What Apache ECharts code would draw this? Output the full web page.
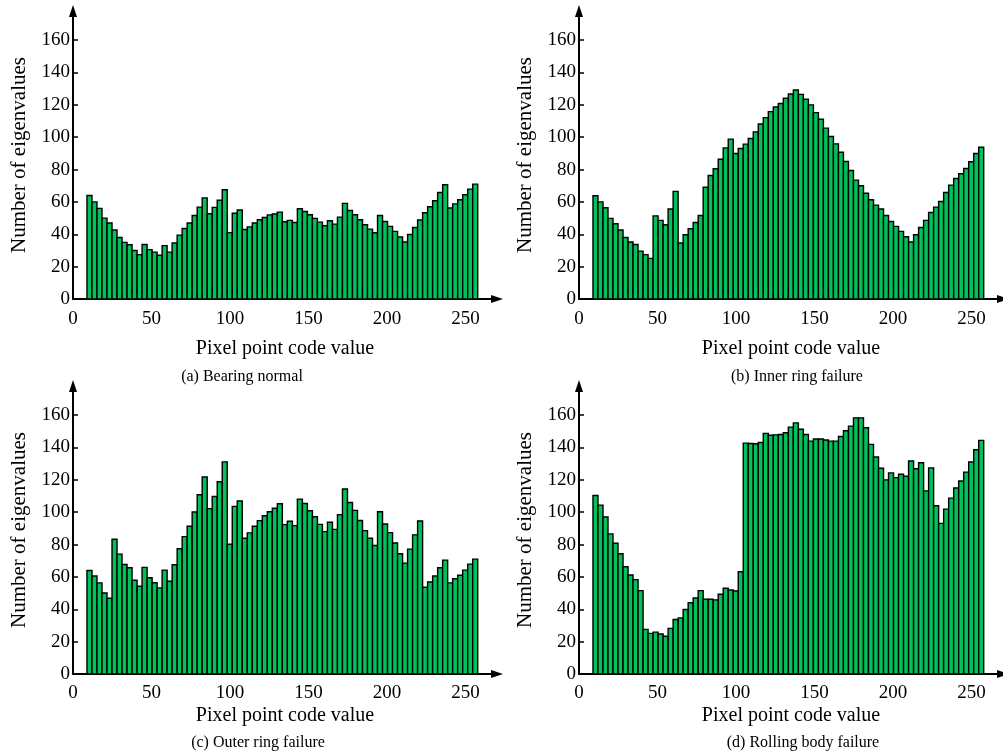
<!DOCTYPE html>
<html>
<head>
<meta charset="utf-8">
<script src="https://cdn.jsdelivr.net/npm/echarts@6/dist/echarts.min.js"></script>
<style>
  html, body { margin: 0; padding: 0; background: #fff; }
  #chart { width: 1003px; height: 756px; }
</style>
</head>
<body>
<div id="chart"></div>
<script>
// Histogram bins of the pixel point code values (equal-width bins)
const binStart = 8.9;
const binWidth = 3.19;
const binCount = 78;

const yTicks = [0, 20, 40, 60, 80, 100, 120, 140, 160];
const xTicks = [0, 50, 100, 150, 200, 250];

// Number of eigenvalues per bin
const bearingNormal = [
  64, 60, 56, 50, 47, 42.6, 38, 35, 33.5, 30, 27.4, 33.7, 30.5, 29, 27, 33, 29, 34.6, 39.5, 43.6,
  47, 51.6, 56.8, 62.5, 52.7, 56.6, 61, 67.5, 41, 53, 55, 43, 44.6, 47, 49, 50.4, 52, 52.5, 53.7,
  47.7, 48.6, 47.3, 55.8, 54.1, 52.1, 49.8, 47.5, 45.3, 48.4, 46.3, 50.6, 59.1, 54.7, 52.1, 49,
  45.9, 43.2, 40.9, 51.6, 47.9, 44.9, 41.8, 38.3, 35.2, 39.9, 44.2, 48.8, 53.3, 57, 60.7, 65.8,
  70.6, 56.2, 58.8, 61.3, 64.4, 67.9, 71
];
const innerRingFailure = [
  63.8, 60, 56.4, 49.8, 46.5, 42.6, 38, 35.2, 33.7, 29.6, 27.4, 25.1, 51.4, 48.6, 45.9, 55.6, 66.5,
  34.6, 39.7, 43.4, 47.3, 51.6, 69.1, 76.3, 80.5, 86.4, 93.4, 98.8, 89.9, 93, 95.7, 99.2, 103.3,
  108.2, 112.1, 115.8, 118.7, 120.8,
  124.1, 126.7, 129.2, 126.5, 123.5, 120, 115.2, 111.1, 105.6, 100.4, 95.9, 90.7, 85, 79.4, 73.5,
  70, 65.4, 61.3, 58, 55.6, 51.6, 47.9, 44.9, 41.8, 38.5, 35.2, 39.7, 44.2, 48.6, 53.5, 56.8, 60.3,
  65.8, 70.4, 74.5, 77.4, 80.7, 84.8, 89.9, 93.8
];
const outerRingFailure = [
  64, 60.6, 56.3, 50.1, 46.8, 83.3, 74.1, 67.7, 65.7, 57.9, 54.2, 65.9, 59.5, 56.4, 53.2, 64.2, 57.3,
  67.5, 77.4, 84.9, 91.3, 100.1, 110.8, 121.8, 102.2, 109.7, 118.8, 131.1, 80.2, 103.6, 106.9, 83.9,
  87.2, 91.3, 94.8, 97.8, 100.3, 102.4, 105.2,
  92.3, 94.4, 91.7, 108.1, 105.4, 100.9, 97.2, 92.5, 88, 93.8, 89.4, 98.5, 114.3, 106, 101.1, 94.9,
  88.6, 83.9, 79.4, 100.3, 92.7, 87.4, 81, 74.3, 68.5, 77.2, 86, 94.6, 53.6, 56.9, 60.6, 65.7, 70.4,
  56.3, 58.9, 61, 64.2, 67.9, 71
];
const rollingBodyFailure = [
  110.3, 104.4, 97, 86.6, 80.8, 74.3, 66.3, 61.2, 58.3, 51.5, 27.6, 25.1, 25.9, 24.7, 23.3, 28.2,
  33.7, 34.7, 39.9, 44, 47, 51.5, 46.2, 46.2, 45.8, 49.3, 53, 51.9, 51.3, 63.2, 142.7, 142.5, 142.3,
  143.1, 148.7, 147.6, 147.8, 148, 149.1, 152.6,
  155.2, 151.3, 148, 143.9, 145.2, 145.2, 144.6, 143.9, 143.9, 146.8, 150.3, 153.2, 158.3, 158.3,
  152.2, 141.9, 134.1, 127.2, 120, 124.3, 121.4, 123.5, 122.2, 131.6, 126.9, 130.6, 113.2, 127.4,
  104, 93.1, 101.9, 108.7, 115, 119.3, 124.8, 131, 138.6, 144.4
];

const panelTitles = [
  '(a) Bearing normal',
  '(b) Inner ring failure',
  '(c) Outer ring failure',
  '(d) Rolling body failure'
];
const panelSeries = [bearingNormal, innerRingFailure, outerRingFailure, rollingBodyFailure];

const yAxisName = 'Number of eigenvalues';
const xAxisName = 'Pixel point code value';

// ---- layout ----
const FONT = '"Liberation Serif", "DejaVu Serif", serif';
const GREEN = '#00c15a';
const panelLeft = [73, 579, 73, 579];
const panelTop = [11, 11, 386, 386];
const xLabelMargin = [10, 10, 9, 9];
const xNameGap = [40, 40, 32, 32];
const captionCenter = [242, 797, 258, 803];
const captionTop = [369, 369, 735, 735];
const plotW = 424, plotH = 288;
const xMax = 270, yMax = 178;

const chart = echarts.init(document.getElementById('chart'), null, { renderer: 'canvas' });

const grids = [], xAxes = [], yAxes = [], series = [], graphics = [];

panelSeries.forEach((vals, i) => {
  grids.push({ left: panelLeft[i], top: panelTop[i], width: plotW, height: plotH, containLabel: false });

  xAxes.push({
    type: 'value', gridIndex: i, min: 0, max: xMax,
    name: xAxisName, nameLocation: 'middle', nameGap: xNameGap[i],
    nameTextStyle: { fontFamily: FONT, fontSize: 20, color: '#000', lineHeight: 20 },
    axisLine: { show: true, symbol: ['none', 'triangle'], symbolSize: [8, 12], lineStyle: { color: '#000', width: 2 } },
    axisTick: { show: false },
    axisLabel: { customValues: xTicks, fontFamily: FONT, fontSize: 19, color: '#000', margin: xLabelMargin[i], lineHeight: 20 },
    splitLine: { show: false }
  });

  yAxes.push({
    type: 'value', gridIndex: i, min: 0, max: yMax,
    name: yAxisName, nameLocation: 'middle', nameGap: 43, nameRotate: 90,
    nameTextStyle: { fontFamily: FONT, fontSize: 21, color: '#000', lineHeight: 21 },
    axisLine: { show: true, onZero: false, symbol: ['none', 'triangle'], symbolSize: [8, 12], lineStyle: { color: '#000', width: 2 } },
    axisTick: { show: true, customValues: yTicks, inside: true, length: 5, lineStyle: { color: '#000', width: 1.5 } },
    axisLabel: { customValues: yTicks, fontFamily: FONT, fontSize: 19, color: '#000', margin: 3 },
    splitLine: { show: false }
  });

  const data = vals.map((v, k) => [binStart + k * binWidth, binStart + (k + 1) * binWidth, v]);

  series.push({
    type: 'custom', xAxisIndex: i, yAxisIndex: i,
    encode: { x: [0, 1], y: 2 },
    data: data,
    renderItem: function (params, api) {
      const top = api.coord([api.value(0), api.value(2)]);
      const base = api.coord([api.value(1), 0]);
      return {
        type: 'rect',
        shape: { x: top[0], y: top[1], width: base[0] - top[0], height: base[1] - top[1] },
        style: { fill: GREEN, stroke: '#000', lineWidth: 1.4 }
      };
    }
  });

  graphics.push({
    type: 'text',
    x: captionCenter[i], y: captionTop[i],
    style: { text: panelTitles[i], fontFamily: FONT, fontSize: 16, fill: '#000', align: 'center', verticalAlign: 'top' }
  });
});

chart.setOption({
  animation: false,
  backgroundColor: '#fff',
  grid: grids,
  xAxis: xAxes,
  yAxis: yAxes,
  series: series,
  graphic: graphics
});
</script>
</body>
</html>
